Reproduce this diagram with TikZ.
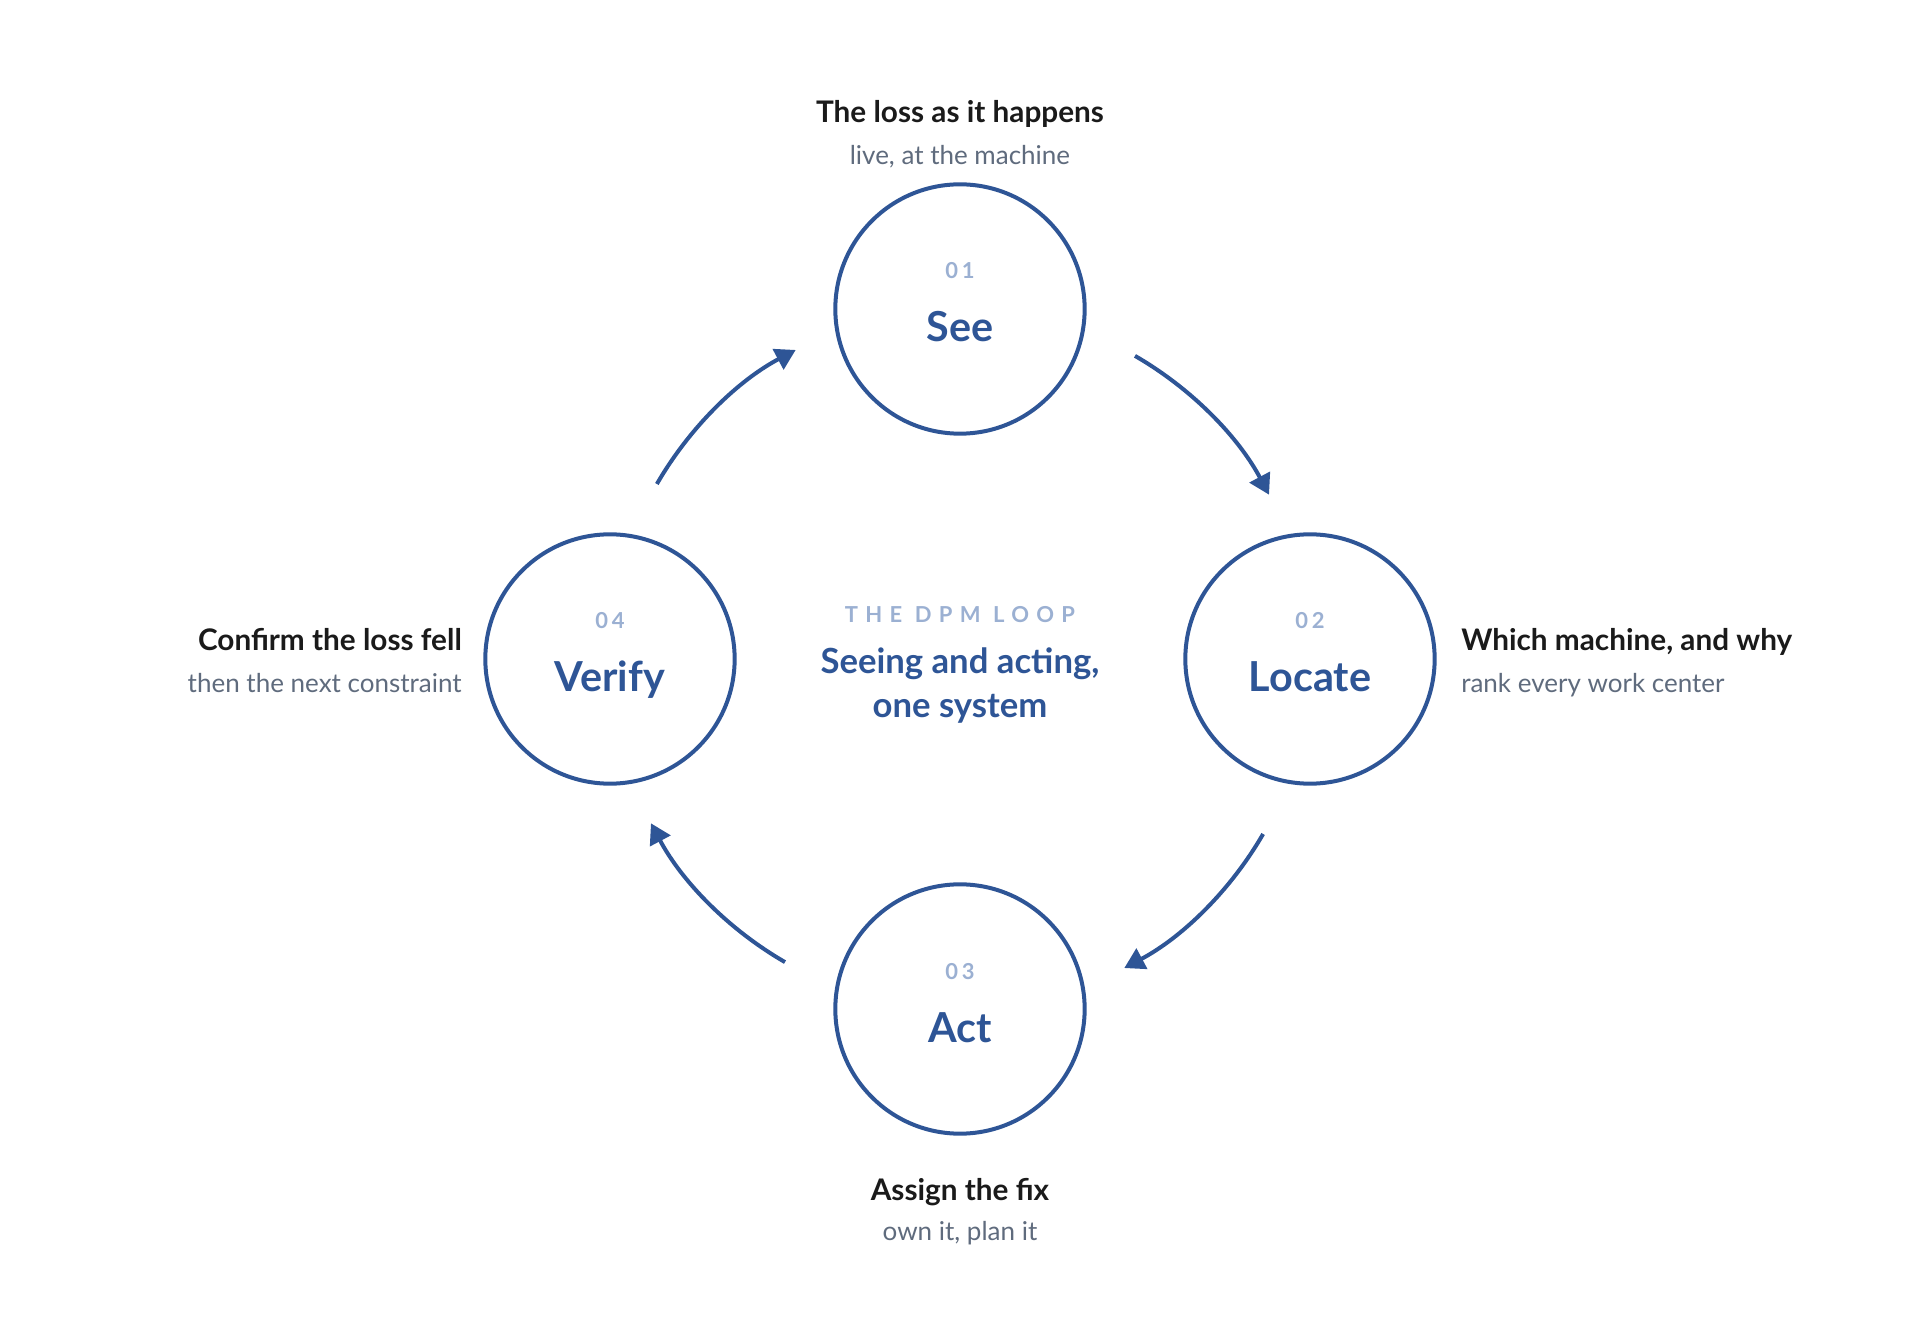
\documentclass[tikz,border=0pt]{standalone}
\usepackage{fontspec}
\setmainfont{Lato}
\newfontfamily\trackwide[LetterSpace=33]{Lato}
\newfontfamily\tracknum[LetterSpace=18]{Lato}
\usetikzlibrary{arrows.meta}
\definecolor{loop}{RGB}{46,85,150}
\definecolor{numc}{RGB}{155,176,210}
\definecolor{ink}{RGB}{26,26,26}
\definecolor{note}{RGB}{95,107,125}

\begin{document}
\begin{tikzpicture}[x=0.75pt,y=0.75pt,>={Triangle[length=15pt,width=17pt]},
  stage/.style={draw=loop,line width=3pt,circle,minimum size=187pt,inner sep=0pt},
  num/.style={anchor=base,text=numc,font=\tracknum\bfseries\fontsize{16.5}{20}\selectfont},
  stagename/.style={anchor=base,text=loop,font=\bfseries\fontsize{31}{37}\selectfont},
  midtext/.style={anchor=base,text=loop,font=\bfseries\fontsize{26}{31}\selectfont},
  head/.style={anchor=base,text=ink,font=\bfseries\fontsize{22.3}{27}\selectfont,inner sep=0pt},
  sub/.style={anchor=base,text=note,font=\fontsize{19.5}{23}\selectfont,inner sep=0pt},
  flow/.style={draw=loop,line width=3pt,->}]
  \useasboundingbox (-960,-661) rectangle (960,659);
  % the four stages
  \node[stage] (see) at (0,350) {};
  \node[stage] (locate) at (350,0) {};
  \node[stage] (act) at (0,-350) {};
  \node[stage] (verify) at (-350,0) {};
  \node[num] (seeN) at (0,380) {01};
  \node[stagename] (seeL) at (0,317) {See};
  \node[num] (locN) at (350,30) {02};
  \node[stagename] (locL) at (350,-33) {Locate};
  \node[num] (actN) at (0,-320) {03};
  \node[stagename] (actL) at (0,-383) {Act};
  \node[num] (verN) at (-350,30) {04};
  \node[stagename] (verL) at (-350,-33) {Verify};
  % centre
  \node[anchor=base,text=numc,font=\trackwide\bfseries\fontsize{16.5}{20}\selectfont] (kicker) at (0,36) {THE DPM LOOP};
  \node[midtext] (mid1) at (0,-15) {Seeing and acting,};
  \node[midtext] (mid2) at (0,-59) {one system};
  % notes
  \node[head] (seeT) at (0,536) {The loss as it happens};
  \node[sub] (seeS) at (0,494) {live, at the machine};
  \node[head,anchor=base west] (locT) at (501,8) {Which machine, and why};
  \node[sub,anchor=base west] (locS) at (501,-34) {rank every work center};
  \node[head] (actT) at (0,-541) {Assign the fix};
  \node[sub] (actS) at (0,-581) {own it, plan it};
  \node[head,anchor=base east] (verT) at (-498,8) {Confirm the loss fell};
  \node[sub,anchor=base east] (verS) at (-498,-34) {then the next constraint};
  % ring arrows
  \coordinate (r1) at (150:350); \coordinate (r2) at (60:350);
  \coordinate (r3) at (-30:350); \coordinate (r4) at (-120:350);
  \draw[flow] (r1) arc[start angle=150,end angle=118,radius=350];
  \draw[flow] (r2) arc[start angle=60,end angle=28,radius=350];
  \draw[flow] (r3) arc[start angle=-30,end angle=-62,radius=350];
  \draw[flow] (r4) arc[start angle=-120,end angle=-152,radius=350];
\end{tikzpicture}
\end{document}
